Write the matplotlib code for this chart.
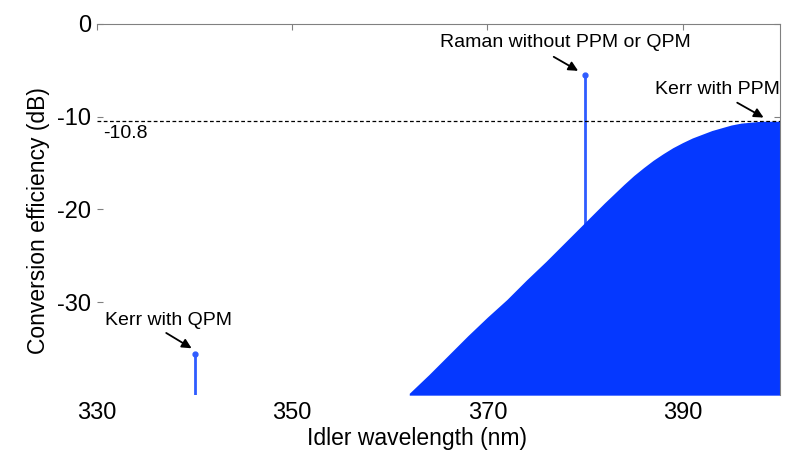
import numpy as np
import matplotlib.pyplot as plt

plt.rcParams['font.family'] = ['Liberation Sans', 'DejaVu Sans']

# Kerr with PPM: conversion efficiency vs idler wavelength
kerr_ppm_wl = [362, 364, 366, 368, 370, 372, 374, 376, 378, 380, 382, 384, 385,
               386, 387, 388, 389, 390, 391, 392, 393, 394, 395, 396, 397, 398, 399, 400]
kerr_ppm_db = [-39.8, -37.8, -35.7, -33.6, -31.6, -29.7, -27.6, -25.6, -23.5, -21.4,
               -19.3, -17.3, -16.35, -15.5, -14.7, -14.0, -13.35, -12.8, -12.3, -11.9,
               -11.5, -11.2, -10.9, -10.7, -10.6, -10.5, -10.5, -10.5]

# single peaks
kerr_qpm_wl, kerr_qpm_db = 340, -35.6
raman_wl, raman_db = 380, -5.5
ppm_max = -10.5

y_bottom = -40
fill_color = '#0538ff'
stem_color = '#2f5cff'

fig = plt.figure(figsize=(8.01, 4.66), dpi=100)
ax = fig.add_axes([0.121, 0.152, 0.853, 0.797])

ax.vlines([kerr_qpm_wl, raman_wl], y_bottom, [kerr_qpm_db, raman_db], color=stem_color, lw=2, zorder=1)
ax.plot([kerr_qpm_wl, raman_wl], [kerr_qpm_db, raman_db], 'o', color=stem_color, ms=3.5, zorder=1)
ax.fill_between(kerr_ppm_wl, kerr_ppm_db, y_bottom, color=fill_color, lw=0, zorder=2)

ax.axhline(ppm_max, color='k', ls=(0, (3, 2)), lw=0.9, zorder=3)
ax.text(330.6, ppm_max - 0.45, '-10.8', fontsize=14, va='top', ha='left')

# arrows and their labels
arrow = dict(arrowstyle='-|>', color='k', lw=1.3, mutation_scale=14, shrinkA=0, shrinkB=0)
ax.annotate('', xy=(379.3, -5.07), xytext=(376.8, -3.56), arrowprops=arrow)
ax.text(378.0, -2.05, 'Raman without PPM or QPM', fontsize=14, ha='center', va='center')
ax.annotate('', xy=(398.3, -10.1), xytext=(395.6, -8.5), arrowprops=arrow)
ax.text(393.6, -7.1, 'Kerr with PPM', fontsize=14, ha='center', va='center')
ax.annotate('', xy=(339.7, -34.95), xytext=(337.1, -33.3), arrowprops=arrow)
ax.text(337.3, -32.0, 'Kerr with QPM', fontsize=14, ha='center', va='center')

ax.set_xlim(330, 400)
ax.set_ylim(y_bottom, 0)
ax.set_xticks([330, 350, 370, 390])
ax.set_yticks([-30, -20, -10, 0])
ax.set_yticklabels(['-30', '-20', '-10', '0'])

for side in ['left', 'bottom']:
    ax.spines[side].set_visible(False)
for side in ['top', 'right']:
    ax.spines[side].set_color('#808080')
ax.tick_params(direction='in', length=4, color='#808080', labelsize=17,
               top=True, right=True, bottom=False, left=True)
ax.tick_params(axis='x', pad=5)
ax.tick_params(axis='y', pad=4)

ax.set_xlabel('Idler wavelength (nm)', fontsize=16.5, labelpad=2)
ax.set_ylabel('Conversion efficiency (dB)', fontsize=16.5, labelpad=5)
ax.xaxis.label.set_x(0.468)
ax.yaxis.label.set_y(0.47)

fig.savefig('out.png', dpi=100)
